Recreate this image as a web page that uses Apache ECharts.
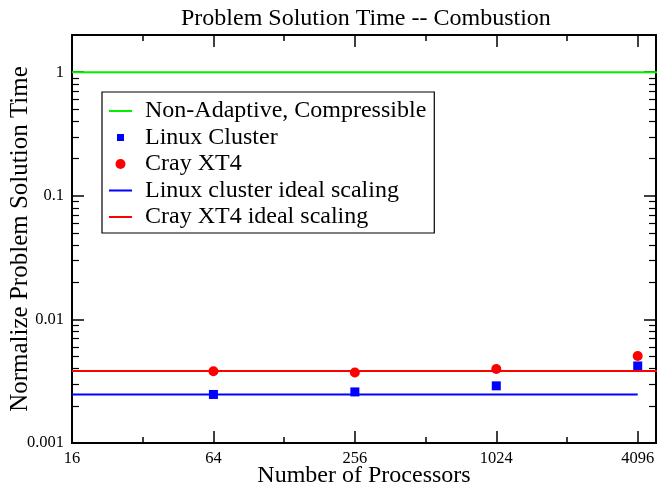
<!DOCTYPE html>
<html>
<head>
<meta charset="utf-8">
<script src="https://cdn.jsdelivr.net/npm/echarts@6/dist/echarts.min.js"></script>
<style>
html,body{margin:0;padding:0;background:#fff;}
#main{width:657px;height:486px;}
</style>
</head>
<body>
<div id="main"></div>
<script>
// processor counts
var procs = [64, 256, 1024, 4096];
// measured normalized times
var linuxTimes = [0.00247, 0.00259, 0.0029, 0.0042];
var crayTimes = [0.00381, 0.00372, 0.00397, 0.00506];
// reference lines
var nonAdaptX = [16, 8192];
var nonAdaptY = [1, 1];
var linuxIdealX = [16, 4096];
var linuxIdealY = [0.00247, 0.00247];
var crayIdealX = [16, 8192];
var crayIdealY = [0.00383, 0.00383];
// minor ticks on the y axis
var yMinor = [0.002, 0.003, 0.004, 0.005, 0.006, 0.007, 0.008, 0.009,
  0.02, 0.03, 0.04, 0.05, 0.06, 0.07, 0.08, 0.09,
  0.2, 0.3, 0.4, 0.5, 0.6, 0.7, 0.8, 0.9];

var names = ['Non-Adaptive, Compressible', 'Linux Cluster', 'Cray XT4',
  'Linux cluster ideal scaling', 'Cray XT4 ideal scaling'];

function pairs(xs, ys){
  var out = [];
  for (var i = 0; i < xs.length; i++) out.push([xs[i], ys[i]]);
  return out;
}

var font = 'Liberation Serif';
var lineIcon = 'path://M0,0h23v2h-23z';
var myChart = echarts.init(document.getElementById('main'));

function xAx(pos, base, len, labels){
  return {
    type: 'log', logBase: base, position: pos,
    min: 16, max: 4900, interval: 1,
    axisLine: {show: true, onZero: false, lineStyle: {color: '#000', width: 2}},
    axisTick: {show: true, inside: true, length: len, lineStyle: {color: '#000', width: 1.5}},
    axisLabel: {show: labels, showMaxLabel: false, margin: 7, color: '#000',
      fontFamily: font, fontSize: 16.5, formatter: function(v){ return String(v); }},
    splitLine: {show: false}
  };
}
function yAx(pos, labels, minor){
  var a = {
    type: 'log', logBase: 10, position: pos,
    min: 0.001, max: 2, interval: 1,
    axisLine: {show: true, onZero: false, lineStyle: {color: '#000', width: 2}},
    axisTick: {show: true, inside: true, length: 12, lineStyle: {color: '#000', width: 1.5}},
    axisLabel: {show: labels, showMaxLabel: false, margin: 8, color: '#000',
      fontFamily: font, fontSize: 16.5, formatter: function(v){ return String(v); }},
    splitLine: {show: false}
  };
  if (minor) {
    a.axisTick = {show: true, inside: true, length: 7, customValues: yMinor,
      lineStyle: {color: '#000', width: 1.2}};
    a.axisLabel = {show: false};
  }
  return a;
}

var xa0 = xAx('bottom', 4, 12, true);
xa0.name = 'Number of Processors';
xa0.nameLocation = 'middle';
xa0.nameGap = 21;
xa0.nameMoveOverlap = false;
xa0.nameTextStyle = {color: '#000', fontFamily: font, fontSize: 24};
var ya0 = yAx('left', true, false);
ya0.name = 'Normalize Problem Solution Time';
ya0.nameLocation = 'middle';
ya0.nameGap = 39;
ya0.nameMoveOverlap = false;
ya0.nameTextStyle = {color: '#000', fontFamily: font, fontSize: 25};

option = {
  animation: false,
  backgroundColor: '#fff',
  title: {
    text: 'Problem Solution Time -- Combustion',
    left: 176, top: 2,
    textStyle: {color: '#000', fontFamily: font, fontSize: 24, fontWeight: 'normal'}
  },
  grid: {left: 72, right: 1, top: 35, bottom: 43, containLabel: false, outerBoundsMode: 'none'},
  xAxis: [xa0, xAx('bottom', 2, 6, false), xAx('top', 4, 12, false), xAx('top', 2, 6, false)],
  yAxis: [ya0, yAx('left', false, true), yAx('right', false, false), yAx('right', false, true)],
  legend: {
    orient: 'vertical', left: 102, top: 92,
    data: [
      {name: names[0], icon: lineIcon},
      {name: names[1], icon: 'path://M0,0M10,10M1.5,1.5h7v7h-7z'},
      {name: names[2], icon: 'circle'},
      {name: names[3], icon: lineIcon},
      {name: names[4], icon: lineIcon}
    ],
    itemWidth: 23, itemHeight: 10, itemGap: 0.5,
    padding: [6, 8, 3, 7],
    borderColor: '#000', borderWidth: 1.2,
    textStyle: {color: '#000', fontFamily: font, fontSize: 24, lineHeight: 26, padding: [0, 0, 0, 8]}
  },
  series: [
    {name: names[0], type: 'line', data: pairs(nonAdaptX, nonAdaptY), symbol: 'none',
      lineStyle: {color: '#00f000', width: 2}, itemStyle: {color: '#00f000'}},
    {name: names[3], type: 'line', data: pairs(linuxIdealX, linuxIdealY), symbol: 'none',
      lineStyle: {color: '#0000ff', width: 2}, itemStyle: {color: '#0000ff'}},
    {name: names[4], type: 'line', data: pairs(crayIdealX, crayIdealY), symbol: 'none',
      lineStyle: {color: '#ff0000', width: 2}, itemStyle: {color: '#ff0000'}},
    {name: names[1], type: 'scatter', data: pairs(procs, linuxTimes), symbol: 'rect',
      symbolSize: 9, itemStyle: {color: '#0000ff', opacity: 1}},
    {name: names[2], type: 'scatter', data: pairs(procs, crayTimes), symbol: 'circle',
      symbolSize: 10, itemStyle: {color: '#ff0000', opacity: 1}}
  ]
};
myChart.setOption(option);
</script>
</body>
</html>
